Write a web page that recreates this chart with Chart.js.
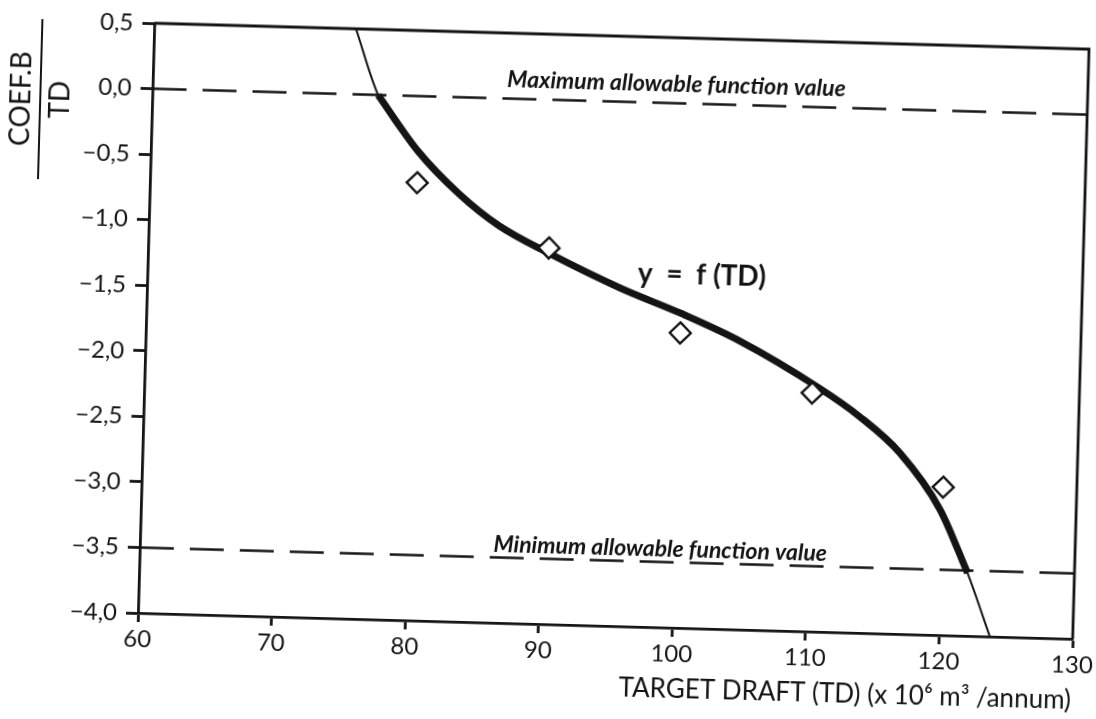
<!DOCTYPE html>
<html>
<head>
<meta charset="utf-8">
<script src="https://cdn.jsdelivr.net/npm/chart.js@4.4.0/dist/chart.umd.min.js"></script>
<style>
  html, body { margin: 0; padding: 0; background: #fff; }
  #wrap { position: relative; width: 1096px; height: 719px; overflow: hidden; background: #fff; }
  /* the scanned figure sits slightly rotated on the page */
  #chart { position: absolute; left: -30px; top: -10px; transform-origin: 168px 623px; transform: rotate(1.59deg); }
</style>
</head>
<body>
<div id="wrap"><canvas id="chart" width="1156" height="749"></canvas></div>
<script>
// fitted curve y = f(TD)
const tdCurve = [75.1, 76.9, 80.0, 83.2, 86.2, 90.0, 95.4, 100.0, 104.5, 110.5, 113.6, 116.7, 119.8, 122.0, 123.8];
const fCurve  = [0.5, 0.0, -0.42, -0.74, -0.97, -1.17, -1.42, -1.60, -1.80, -2.14, -2.35, -2.62, -3.04, -3.52, -4.0];

// observed COEF.B / TD values (diamonds)
const tdPoints = [80, 90, 100, 110, 120];
const coefPoints = [-0.66, -1.13, -1.75, -2.18, -2.87];

// allowable function range
const maxAllowable = 0.0;
const minAllowable = -3.5;

const xTicks = [60, 70, 80, 90, 100, 110, 120, 130];
const yTicks = [0.5, 0.0, -0.5, -1.0, -1.5, -2.0, -2.5, -3.0, -3.5, -4.0];

const INK = "#141414";
const FONT = "Lato";

const toXY = (xs, ys) => xs.map((x, i) => ({ x, y: ys[i] }));
const fmt = (v) => Number(v).toFixed(1).replace(".", ",").replace("-", "\u2212");

// thick part of the curve lies inside the allowable band
const inBand = tdCurve.map((x, i) => i).filter((i) => fCurve[i] <= maxAllowable && fCurve[i] >= minAllowable - 0.05);
const bandCurve = inBand.map((i) => ({ x: tdCurve[i], y: fCurve[i] }));

const figureText = {
  id: "figureText",
  afterDatasetsDraw(chart) {
    const { ctx, chartArea: a, scales: { x, y } } = chart;
    ctx.save();

    // top and right frame
    ctx.strokeStyle = INK;
    ctx.lineWidth = 2.8;
    ctx.beginPath();
    ctx.moveTo(a.left, a.top);
    ctx.lineTo(a.right, a.top);
    ctx.lineTo(a.right, a.bottom);
    ctx.stroke();

    ctx.fillStyle = INK;
    ctx.textAlign = "center";
    ctx.textBaseline = "alphabetic";

    ctx.font = `italic bold 23px ${FONT}`;
    ctx.fillText("Maximum allowable function value", x.getPixelForValue(99.2), y.getPixelForValue(0.09));
    ctx.fillText("Minimum allowable function value", x.getPixelForValue(98.95), y.getPixelForValue(-3.46));

    ctx.font = `bold 28px ${FONT}`;
    ctx.fillText("y  =  f (TD)", x.getPixelForValue(101.5), y.getPixelForValue(-1.38));

    // y axis title drawn as a fraction COEF.B / TD
    ctx.translate(56, 112);
    ctx.rotate(-Math.PI / 2);
    ctx.font = `28px ${FONT}`;
    ctx.textBaseline = "middle";
    ctx.fillText("COEF.B", 0, -19);
    ctx.fillText("TD", 0, 20);
    ctx.lineWidth = 2;
    ctx.beginPath();
    ctx.moveTo(-80, 0);
    ctx.lineTo(80, 0);
    ctx.stroke();

    ctx.restore();
  },
};

new Chart(document.getElementById("chart"), {
  type: "line",
  data: {
    datasets: [
      {
        label: "observed",
        data: toXY(tdPoints, coefPoints),
        showLine: false,
        pointStyle: "rectRot",
        pointRadius: 10.5,
        pointBorderWidth: 2.4,
        pointBorderColor: INK,
        pointBackgroundColor: "#fff",
      },
      {
        label: "f(TD) allowable",
        data: bandCurve,
        borderColor: INK,
        borderWidth: 7,
        pointRadius: 0,
        cubicInterpolationMode: "monotone",
      },
      {
        label: "f(TD)",
        data: toXY(tdCurve, fCurve),
        borderColor: INK,
        borderWidth: 2,
        pointRadius: 0,
        cubicInterpolationMode: "monotone",
      },
      {
        label: "max",
        data: [{ x: 60, y: maxAllowable }, { x: 130, y: maxAllowable }],
        borderColor: INK,
        borderWidth: 2.4,
        borderDash: [34, 16],
        pointRadius: 0,
      },
      {
        label: "min",
        data: [{ x: 60, y: minAllowable }, { x: 130, y: minAllowable }],
        borderColor: INK,
        borderWidth: 2.4,
        borderDash: [34, 16],
        pointRadius: 0,
      },
    ],
  },
  options: {
    responsive: false,
    devicePixelRatio: 1,
    animation: false,
    layout: { padding: { left: 0, top: 33, right: 53, bottom: 0 } },
    plugins: { legend: { display: false }, tooltip: { enabled: false } },
    scales: {
      x: {
        type: "linear",
        min: xTicks[0],
        max: xTicks[xTicks.length - 1],
        afterBuildTicks: (s) => { s.ticks = xTicks.map((v) => ({ value: v })); },
        afterFit: (s) => { s.height = 126; },
        ticks: { color: INK, padding: 3, font: { family: FONT, size: 24 } },
        grid: { drawOnChartArea: false, drawTicks: true, tickLength: 9, tickWidth: 2.8, tickColor: INK },
        border: { display: true, color: INK, width: 2.8 },
        title: {
          display: true,
          text: "TARGET DRAFT (TD) (x 10\u2076 m\u00b3 /annum)",
          align: "end",
          color: INK,
          font: { family: FONT, size: 26 },
          padding: { top: 0, bottom: 49 },
        },
      },
      y: {
        min: -4,
        max: 0.5,
        afterBuildTicks: (s) => { s.ticks = yTicks.map((v) => ({ value: v })); },
        afterFit: (s) => { s.width = 168; },
        ticks: { color: INK, padding: 9, font: { family: FONT, size: 24 }, callback: (v) => fmt(v) },
        grid: { drawOnChartArea: false, drawTicks: true, tickLength: 12, tickWidth: 2.8, tickColor: INK },
        border: { display: true, color: INK, width: 2.8 },
      },
    },
  },
  plugins: [figureText],
});
</script>
</body>
</html>
